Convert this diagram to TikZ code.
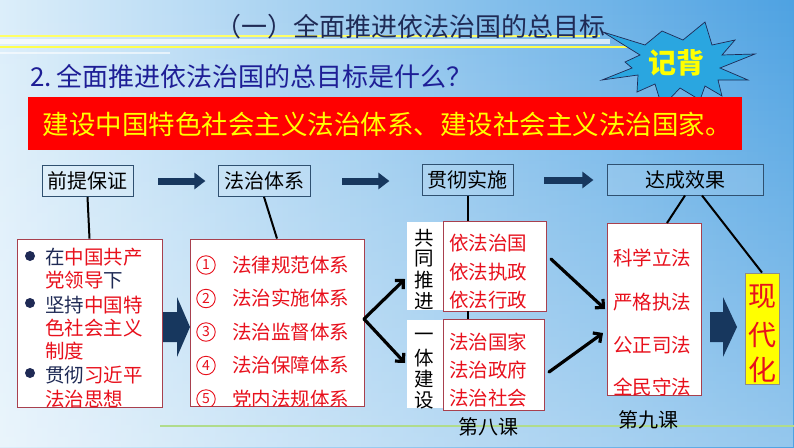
\documentclass[tikz,border=0pt]{standalone}
\usepackage{fontspec}
\setmainfont{Noto Sans CJK SC}
\newfontfamily\cjk{Noto Sans CJK SC}
\usetikzlibrary{arrows.meta,fadings}
\definecolor{bgl}{HTML}{DCEEFA}
\definecolor{bgm}{HTML}{98CAEF}
\definecolor{bgr}{HTML}{4EA2E2}
\definecolor{navy}{HTML}{17375E}
\definecolor{tnavy}{HTML}{1F2A55}
\definecolor{qblue}{HTML}{1E1E96}
\definecolor{tred}{HTML}{E8101C}
\definecolor{bord}{HTML}{A8404E}
\definecolor{hbord}{HTML}{2F5070}
\definecolor{starfill}{HTML}{2AA6E0}
\definecolor{ylw}{HTML}{FFFF00}
\definecolor{lgreen}{HTML}{B0DC8C}
\tikzset{
  hbox/.style={draw=hbord, line width=0.8pt, fill=white, fill opacity=0.12, text opacity=1, minimum height=31pt, inner sep=0pt, font=\fontsize{20}{20}\selectfont, text=black},
  wbox/.style={draw=bord, line width=0.9pt, fill=white},
  rtxt/.style={text=tred, inner sep=0pt, font=\fontsize{19.5}{20}\selectfont},
  ktxt/.style={text=black, inner sep=0pt, font=\fontsize{19.5}{20}\selectfont},
  cnum/.style={draw=tred, text=tred, circle, line width=0.9pt, minimum size=18.5pt, inner sep=0pt, font=\fontsize{14}{14}\selectfont},
  harrow/.style={navy, line width=7pt, -{Triangle[length=11pt,width=16pt]}},
  barrow/.style={black, line width=3.2pt, line cap=round, -{Straight Barb[length=6pt,width=12pt]}},
  conn/.style={black, line width=2pt},
}
\begin{document}
\begin{tikzpicture}[x=1pt,y=-1pt]
\useasboundingbox (0,0) rectangle (794,447);
% background
\shade[left color=bgl, middle color=bgm, right color=bgr] (0,0) rectangle (794,447);
\fill[white, path fading=north, opacity=0.4] (0,0) rectangle (794,447);
% decorative lines
\draw[color=ylw!60!white, line width=2pt] (0,36) -- (600,36);
\draw[white, line width=5pt, opacity=0.7] (0,41.5) -- (610,41.5);
\draw[color=ylw!70!white, line width=2pt] (0,47) -- (628,47);
\draw[white, line width=2pt, opacity=0.6] (0,53) -- (170,53);
\draw[lgreen, line width=1.6pt] (160,426) -- (794,426);
% title
\node[text=tnavy, inner sep=0pt, font=\fontsize{26}{26}\selectfont] (title) at (410,27) {（一）全面推进依法治国的总目标};
% star
\draw[fill=starfill, draw=tnavy, line width=0.7pt]
 (603,32) -- (645,45) -- (662,31) -- (683,40) -- (705,22) -- (712,45) -- (735,40) -- (722,55) -- (755,54) -- (720,68) -- (748,80) -- (718,80) -- (722,96) -- (705,86) -- (700,100) -- (680,88) -- (662,107) -- (655,84) -- (637,92) -- (638,75) -- (602,80) -- (632,68) -- (625,62) -- (640,55) -- cycle;
\node[text=ylw, inner sep=0pt, font=\fontsize{28}{28}\selectfont\bfseries] (jibei) at (676,63) {记背};
% question
\node[text=qblue, anchor=west, inner sep=0pt, font=\fontsize{26}{26}\selectfont] (q) at (30,77) {2.\,全面推进依法治国的总目标是什么？};
% red banner
\fill[red] (28,97) rectangle (742,150);
\node[text=ylw, inner sep=0pt, font=\fontsize{26.5}{26}\selectfont] (goal) at (387,124) {建设中国特色社会主义法治体系、建设社会主义法治国家。};
% header boxes
\node[hbox, minimum width=91pt] (h1) at (87.5,181) {前提保证};
\node[hbox, minimum width=92pt] (h2) at (264,181) {法治体系};
\node[hbox, minimum width=91pt] (h3) at (467.5,180) {贯彻实施};
\node[hbox, minimum width=156pt] (h4) at (685,180) {达成效果};
\draw[harrow] (h1.east) ++(25,0) coordinate (a1s) -- ++(47,0) coordinate (a1e);
\draw[harrow] (h2.east) ++(32,0) coordinate (a2s) -- ++(47,0) coordinate (a2e);
\draw[harrow] (h3.east) ++(31,0) coordinate (a3s) -- ++(49,0) coordinate (a3e);
% left box
\node[wbox, minimum width=145pt, minimum height=168pt, inner sep=0pt] (lb) at (89.5,323) {};
\begin{scope}
\clip (lb.south west) rectangle (lb.north east);
\foreach \yy in {256,303,373} \fill[tnavy] (30,\yy) circle (5pt);
\node[rtxt, anchor=west] (l1) at (45,257) {\textcolor{tnavy}{在}中国共产};
\node[rtxt, anchor=west] (l2) at (45,280) {党领导\textcolor{tnavy}{下}};
\node[rtxt, anchor=west] (l3) at (45,305) {\textcolor{tnavy}{坚持}中国特};
\node[rtxt, anchor=west] (l4) at (45,328) {色社会主义};
\node[rtxt, anchor=west] (l5) at (45,351) {制度};
\node[rtxt, anchor=west] (l6) at (45,375) {\textcolor{tnavy}{贯彻}习近平};
\node[rtxt, anchor=west] (l7) at (45,399) {法治思想};
\end{scope}
\draw[conn] (h1.south) -- (lb.north);
% middle box
\node[wbox, minimum width=174pt, minimum height=167pt, inner sep=0pt] (mb) at (277,322.5) {};
\begin{scope}
\clip (mb.south west) rectangle (mb.north east);
\foreach \n/\t/\yy in {1/法律规范体系/265,2/法治实施体系/298.5,3/法治监督体系/332,4/法治保障体系/365.5,5/党内法规体系/399} {
  \node[cnum] at (206,\yy) {\n};
  \node[rtxt, anchor=west] at (232,\yy) {\t};
}
\end{scope}
\draw[conn] (h2.south) -- (mb.north);
% big arrow 1
\fill[navy] (163,312) -- (177,312) -- (177,297) -- (190,327) -- (177,357) -- (177,342) -- (163,342) -- cycle;
% gongtong tuijin
\node[fill=white, minimum width=36pt, minimum height=88pt, inner sep=0pt] (gc) at (425,266) {};
\node[wbox, minimum width=103pt, minimum height=90pt, inner sep=0pt] (gb) at (494.5,266) {};
\node[ktxt] at (424,238) {共};
\node[ktxt] at (424,259) {同};
\node[ktxt] at (424,280) {推};
\node[ktxt] at (424,301) {进};
\node[rtxt, anchor=west] at (449,243) {依法治国};
\node[rtxt, anchor=west] at (449,272) {依法执政};
\node[rtxt, anchor=west] at (449,300) {依法行政};
% yiti jianshe
\node[fill=white, minimum width=36pt, minimum height=88pt, inner sep=0pt] (yc) at (425,364) {};
\node[wbox, minimum width=101pt, minimum height=91pt, inner sep=0pt] (yb) at (493.5,364.5) {};
\node[ktxt] at (424,337) {一};
\node[ktxt] at (424,358) {体};
\node[ktxt] at (424,379) {建};
\node[ktxt] at (424,400) {设};
\node[rtxt, anchor=west] at (449,342) {法治国家};
\node[rtxt, anchor=west] at (449,370) {法治政府};
\node[rtxt, anchor=west] at (449,398) {法治社会};
\draw[conn] (h3.south) -- (h3.south |- gb.north);
\draw[conn] (h3.south |- gb.south) -- (h3.south |- yb.north);
% black arrows from middle box
\coordinate (mbo) at (364,319);
\draw[barrow] (mbo) -- (405,279);
\draw[barrow] (mbo) -- (405,363);
% effects box
\node[wbox, minimum width=94pt, minimum height=172pt, inner sep=0pt] (kb) at (654,309) {};
\begin{scope}
\clip (kb.south west) rectangle (kb.north east);
\node[rtxt, anchor=west] at (613,258) {科学立法};
\node[rtxt, anchor=west] at (613,302) {严格执法};
\node[rtxt, anchor=west] at (613,345) {公正司法};
\node[rtxt, anchor=west] at (613,387) {全民守法};
\end{scope}
\draw[barrow] (551,259) -- (605,309);
\draw[barrow] (549,372) -- (603,333);
% big arrow 2
\fill[navy] (710,312) -- (723,312) -- (723,297) -- (737,327) -- (723,357) -- (723,342) -- (710,342) -- cycle;
% modernization
\node[draw=black!45, line width=0.8pt, fill=ylw, minimum width=34pt, minimum height=111pt, inner sep=0pt] (xd) at (762,328.5) {};
\node[text=tred, inner sep=0pt, font=\fontsize{28}{28}\selectfont] at (762,297) {现};
\node[text=tred, inner sep=0pt, font=\fontsize{28}{28}\selectfont] at (762,335) {代};
\node[text=tred, inner sep=0pt, font=\fontsize{28}{28}\selectfont] at (762,370) {化};
% connectors from h4
\draw[conn] (685,195.5) -- (667,223);
\draw[conn] (702,195.5) -- (xd.north);
% lesson labels
\node[ktxt, font=\fontsize{20}{20}\selectfont] (l8) at (488,427) {第八课};
\node[ktxt, font=\fontsize{20}{20}\selectfont] (l9) at (648,420) {第九课};
\end{tikzpicture}
\end{document}
